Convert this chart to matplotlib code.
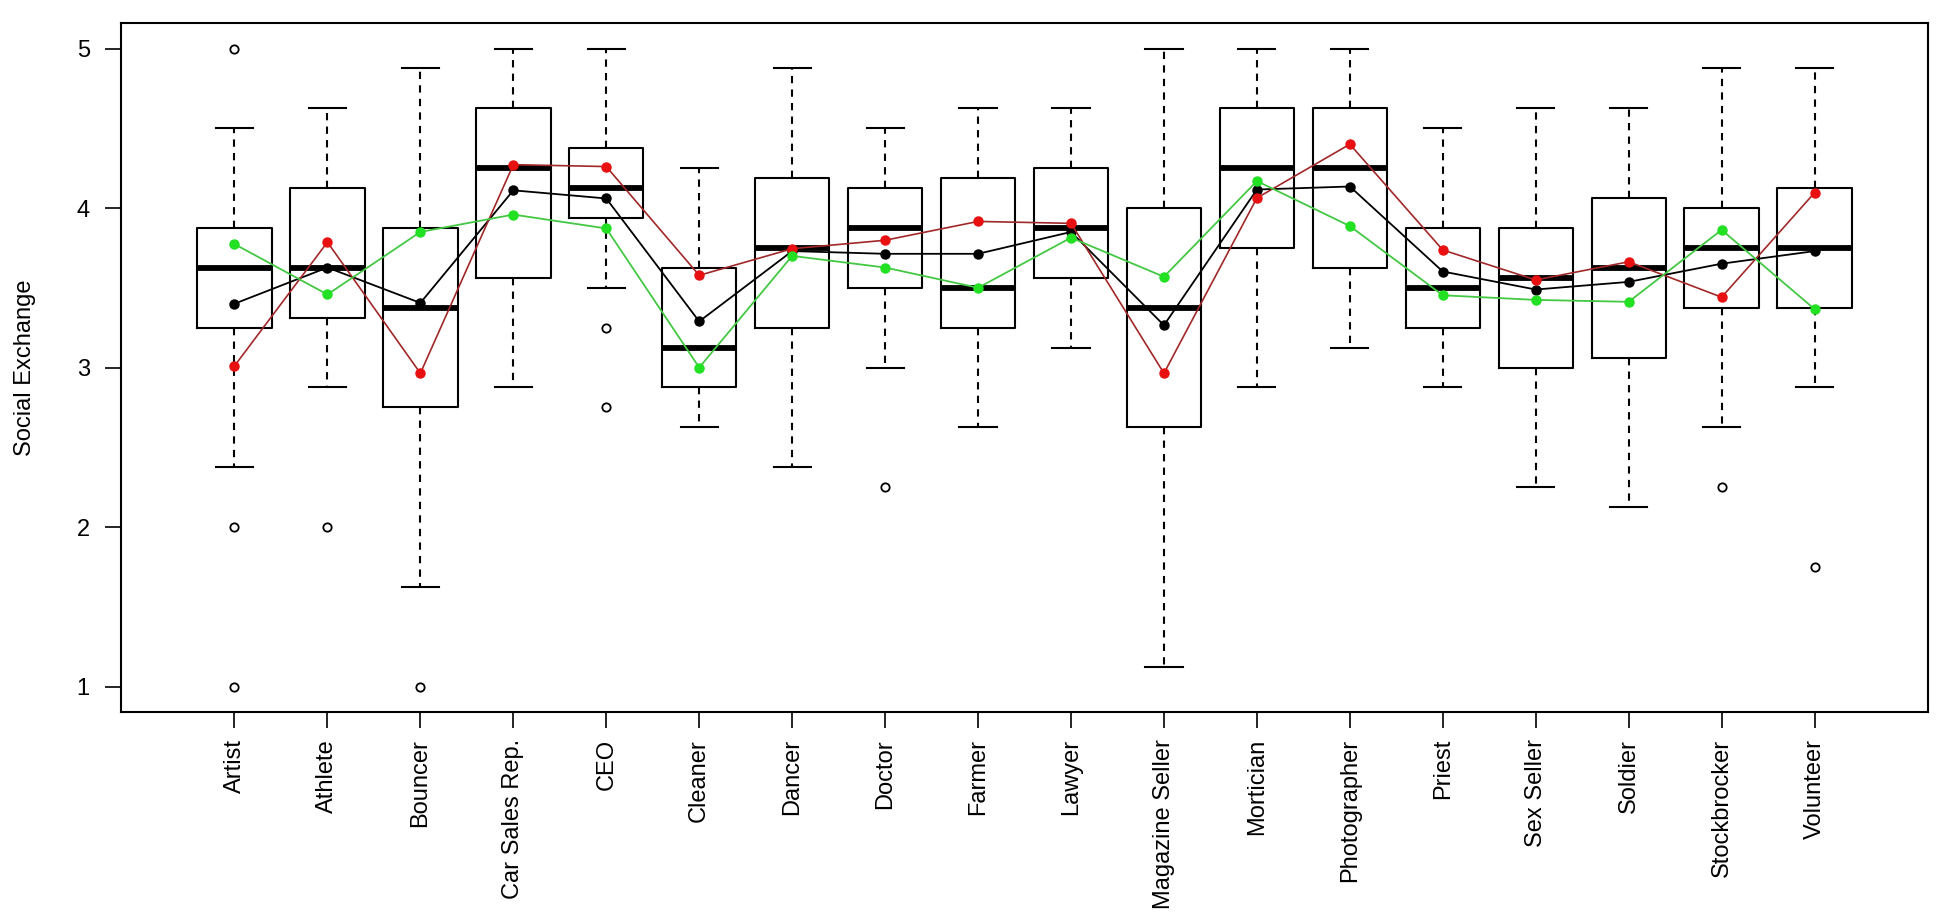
import matplotlib
matplotlib.use("Agg")
import matplotlib.pyplot as plt

plt.rcParams["font.family"] = ["Liberation Sans", "DejaVu Sans"]

# occupations on the x axis
occupations = ["Artist", "Athlete", "Bouncer", "Car Sales Rep.", "CEO", "Cleaner",
               "Dancer", "Doctor", "Farmer", "Lawyer", "Magazine Seller", "Mortician",
               "Photographer", "Priest", "Sex Seller", "Soldier", "Stockbrocker",
               "Volunteer"]

# box statistics
whisker_low = [2.375, 2.875, 1.625, 2.875, 3.5, 2.625, 2.375, 3.0, 2.625, 3.125,
               1.125, 2.875, 3.125, 2.875, 2.25, 2.125, 2.625, 2.875]
q1 = [3.25, 3.3125, 2.75, 3.5625, 3.9375, 2.875, 3.25, 3.5, 3.25, 3.5625,
      2.625, 3.75, 3.625, 3.25, 3.0, 3.0625, 3.375, 3.375]
median = [3.625, 3.625, 3.375, 4.25, 4.125, 3.125, 3.75, 3.875, 3.5, 3.875,
          3.375, 4.25, 4.25, 3.5, 3.5625, 3.625, 3.75, 3.75]
q3 = [3.875, 4.125, 3.875, 4.625, 4.375, 3.625, 4.1875, 4.125, 4.1875, 4.25,
      4.0, 4.625, 4.625, 3.875, 3.875, 4.0625, 4.0, 4.125]
whisker_high = [4.5, 4.625, 4.875, 5.0, 5.0, 4.25, 4.875, 4.5, 4.625, 4.625,
                5.0, 5.0, 5.0, 4.5, 4.625, 4.625, 4.875, 4.875]
outliers = {
    "Artist": [5.0, 2.0, 1.0],
    "Athlete": [2.0],
    "Bouncer": [1.0],
    "CEO": [3.25, 2.75],
    "Doctor": [2.25],
    "Stockbrocker": [2.25],
    "Volunteer": [1.75],
}

# group means drawn as lines
mean_all = [3.40, 3.627, 3.405, 4.111, 4.06, 3.289, 3.73, 3.713, 3.713, 3.85,
            3.265, 4.116, 4.135, 3.602, 3.489, 3.537, 3.651, 3.73]
mean_red = [3.01, 3.786, 2.964, 4.272, 4.26, 3.578, 3.745, 3.798, 3.916, 3.904,
            2.964, 4.063, 4.40, 3.737, 3.549, 3.663, 3.441, 4.096]
mean_green = [3.774, 3.458, 3.85, 3.959, 3.872, 3.0, 3.70, 3.627, 3.5, 3.814,
              3.569, 4.169, 3.887, 3.453, 3.424, 3.412, 3.863, 3.366]

stats = []
for i, name in enumerate(occupations):
    stats.append({
        "label": name,
        "whislo": whisker_low[i], "q1": q1[i], "med": median[i],
        "q3": q3[i], "whishi": whisker_high[i],
        "fliers": outliers.get(name, []),
    })

positions = list(range(1, len(occupations) + 1))

fig = plt.figure(figsize=(19.5, 9.21), dpi=100)
ax = fig.add_axes([0.0621, 0.2269, 0.9266, 0.7481])

lw = 1.5
ax.bxp(stats, positions=positions, widths=0.8, showfliers=True,
       boxprops=dict(color="black", linewidth=lw),
       medianprops=dict(color="black", linewidth=4.2, solid_capstyle="butt"),
       whiskerprops=dict(color="black", linewidth=lw, linestyle=(0, (3.5, 3))),
       capprops=dict(color="black", linewidth=lw),
       capwidths=0.4,
       flierprops=dict(marker="o", markersize=6, markerfacecolor="none",
                       markeredgecolor="black", markeredgewidth=1.3))

ax.plot(positions, mean_all, color="black", linewidth=1.3, marker="o",
        markersize=6.5, markerfacecolor="black", markeredgecolor="black", zorder=5)
ax.plot(positions, mean_red, color="#a02828", linewidth=1.2, marker="o",
        markersize=6.5, markerfacecolor="#e81010", markeredgecolor="#e81010", zorder=6)
ax.plot(positions, mean_green, color="#44c844", linewidth=1.3, marker="o",
        markersize=6.5, markerfacecolor="#22e022", markeredgecolor="#22e022", zorder=7)

ax.set_xlim(-0.22, 19.22)
ax.set_ylim(0.84, 5.16)
ax.set_yticks([1, 2, 3, 4, 5])
ax.set_yticklabels(["1", "2", "3", "4", "5"])
ax.set_xticks(positions)
ax.set_xticklabels(occupations, rotation=90)
ax.tick_params(axis="both", direction="out", length=11.5, width=1.2,
               labelsize=17, colors="black")
ax.tick_params(axis="y", pad=11)
ax.tick_params(axis="x", pad=8)
for sp in ax.spines.values():
    sp.set_linewidth(1.5)

ax.set_ylabel("Social Exchange", fontsize=17)
ax.yaxis.set_label_coords(-0.047, 0.5)

fig.savefig("out.png", dpi=100)
